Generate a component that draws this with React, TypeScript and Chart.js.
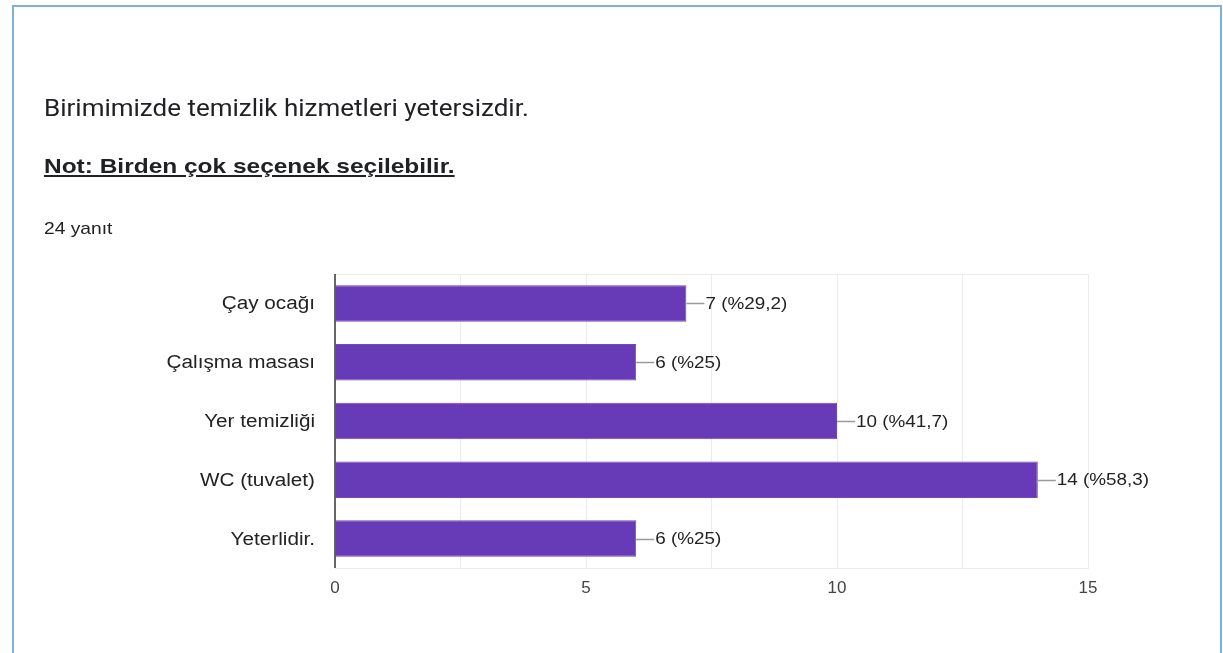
import React, { useEffect, useRef } from "react";
import { Chart, registerables } from "chart.js";

Chart.register(...registerables);

const titleText = "Birimimizde temizlik hizmetleri yetersizdir.";
const noteText = "Not: Birden çok seçenek seçilebilir.";
const responsesText = "24 yanıt";

const categories = ["Çay ocağı", "Çalışma masası", "Yer temizliği", "WC (tuvalet)", "Yeterlidir."];
const counts = [7, 6, 10, 14, 6];
const percents = ["%29,2", "%25", "%41,7", "%58,3", "%25"];
const xMax = 15;
const xLabelStep = 5;
const xGridStep = 2.5;

const CHART_FONT = "Arial, 'Liberation Sans', sans-serif";

export default function App() {
  const ref = useRef<HTMLCanvasElement | null>(null);

  useEffect(() => {
    document.body.style.margin = "0";
    const canvas = ref.current;
    if (!canvas) return;

    const framePlugin = {
      id: "frame",
      beforeDatasetsDraw(chart: any) {
        const { ctx, chartArea } = chart;
        ctx.save();
        ctx.strokeStyle = "#ebebeb";
        ctx.lineWidth = 1;
        ctx.beginPath();
        ctx.moveTo(chartArea.left, Math.round(chartArea.top) + 0.5);
        ctx.lineTo(chartArea.right, Math.round(chartArea.top) + 0.5);
        ctx.stroke();
        ctx.restore();
      },
      afterDatasetsDraw(chart: any) {
        const { ctx, chartArea } = chart;
        const yScale = chart.scales.y;
        ctx.save();
        ctx.strokeStyle = "#333333";
        ctx.lineWidth = 1.5;
        ctx.beginPath();
        ctx.moveTo(Math.round(chartArea.left), chartArea.top);
        ctx.lineTo(Math.round(chartArea.left), chartArea.bottom);
        ctx.stroke();

        categories.forEach((label, i) => {
          const y = yScale.getPixelForTick(i);
          ctx.save();
          ctx.translate(chartArea.left - 20, y + 1);
          ctx.scale(1.15, 1);
          ctx.fillStyle = "#222222";
          ctx.font = `18px ${CHART_FONT}`;
          ctx.textAlign = "right";
          ctx.textBaseline = "middle";
          ctx.fillText(label, 0, 0);
          ctx.restore();
        });

        const meta = chart.getDatasetMeta(0);
        meta.data.forEach((bar: any, i: number) => {
          const x = bar.x;
          const y = Math.round(bar.y) + 0.5;
          ctx.strokeStyle = "#9a9a9a";
          ctx.lineWidth = 1.5;
          ctx.beginPath();
          ctx.moveTo(x, y);
          ctx.lineTo(x + 18, y);
          ctx.stroke();
          ctx.save();
          ctx.translate(x + 19, bar.y + 1);
          ctx.scale(1.11, 1);
          ctx.fillStyle = "#222222";
          ctx.font = `17px ${CHART_FONT}`;
          ctx.textBaseline = "middle";
          ctx.textAlign = "left";
          ctx.fillText(`${counts[i]} (${percents[i]})`, 0, 0);
          ctx.restore();
        });
        ctx.restore();
      },
    };

    const chart = new Chart(canvas, {
      type: "bar",
      data: {
        labels: categories,
        datasets: [
          {
            data: counts,
            backgroundColor: "#673ab7",
            borderColor: "#7048bb",
            borderWidth: 1,
            barPercentage: 1,
            categoryPercentage: 0.62,
          },
        ],
      },
      options: {
        indexAxis: "y",
        animation: false,
        responsive: false,
        maintainAspectRatio: false,
        layout: { padding: { left: 0, right: 135, top: 274, bottom: 45 } },
        plugins: {
          legend: { display: false },
          tooltip: { enabled: false },
          title: { display: false },
        },
        scales: {
          x: {
            type: "linear",
            min: 0,
            max: xMax,
            afterFit: (s: any) => {
              s.height = 40;
            },
            ticks: {
              stepSize: xGridStep,
              autoSkip: false,
              maxRotation: 0,
              padding: 10,
              color: "#444444",
              font: { family: CHART_FONT, size: 17 },
              callback: (v: any) => (Number(v) % xLabelStep === 0 ? String(v) : ""),
            },
            grid: {
              drawTicks: false,
              color: (c: any) => (c.tick && c.tick.value === 0 ? "rgba(0,0,0,0)" : "#ebebeb"),
              lineWidth: 1,
            },
            border: { display: true, color: "#ebebeb" },
          },
          y: {
            type: "category",
            afterFit: (s: any) => {
              s.width = 335;
            },
            ticks: { display: false },
            grid: { display: false, drawTicks: false },
            border: { display: false },
          },
        },
      },
      plugins: [framePlugin],
    } as any);

    return () => chart.destroy();
  }, []);

  return (
    <div style={{ position: "relative", width: 1223, height: 653, overflow: "hidden", background: "#ffffff" }}>
      <div
        style={{
          position: "absolute",
          left: 12,
          top: 5,
          width: 1210,
          height: 700,
          border: "2px solid #7fb0de",
          boxSizing: "border-box",
        }}
      />
      <canvas ref={ref} width={1223} height={653} style={{ position: "absolute", left: 0, top: 0, width: 1223, height: 653 }} />
      <div
        style={{
          position: "absolute",
          left: 44,
          top: 95,
          fontFamily: "Roboto, sans-serif",
          fontSize: 23,
          lineHeight: "28px",
          color: "#202124",
          whiteSpace: "nowrap",
          transform: "scaleX(1.13)",
          transformOrigin: "left center",
        }}
      >
        {titleText}
      </div>
      <div
        style={{
          position: "absolute",
          left: 44,
          top: 154,
          fontFamily: "Arial, 'Liberation Sans', sans-serif",
          fontSize: 21,
          fontWeight: 700,
          lineHeight: "24px",
          color: "#202124",
          textDecoration: "underline",
          whiteSpace: "nowrap",
          transform: "scaleX(1.165)",
          transformOrigin: "left center",
        }}
      >
        {noteText}
      </div>
      <div
        style={{
          position: "absolute",
          left: 44,
          top: 219,
          fontFamily: "Arial, 'Liberation Sans', sans-serif",
          fontSize: 17,
          lineHeight: "20px",
          color: "#202124",
          whiteSpace: "nowrap",
          transform: "scaleX(1.13)",
          transformOrigin: "left center",
        }}
      >
        {responsesText}
      </div>
    </div>
  );
}
